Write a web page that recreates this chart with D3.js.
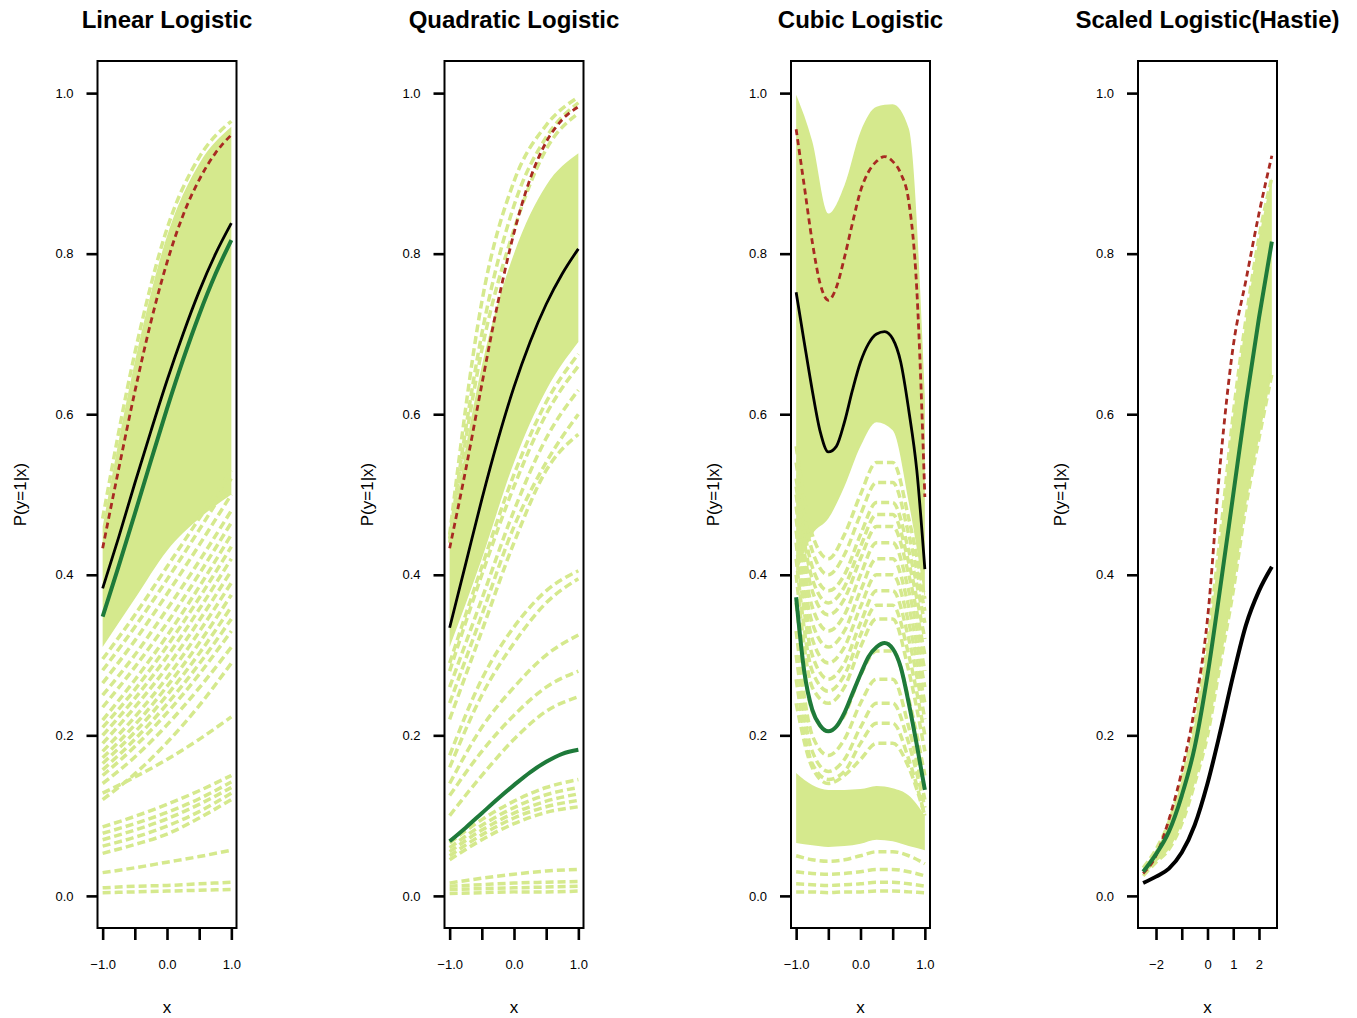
<!DOCTYPE html>
<html>
<head>
<meta charset="utf-8">
<script src="https://cdn.jsdelivr.net/npm/d3@7"></script>
<style>
  body { margin: 0; background: #fff; }
  text { font-family: "Liberation Sans", Arial, sans-serif; }
</style>
</head>
<body>
<svg id="chart" width="1357" height="1018"></svg>
<script>
// x grids the curves were read at
const xFive = [-1, -0.5, 0, 0.5, 1]
const xNine = [-1, -0.75, -0.5, -0.25, 0, 0.25, 0.5, 0.75, 1]
const xCubic = [-1, -0.875, -0.75, -0.625, -0.5, -0.375, -0.25, -0.125, 0, 0.125, 0.25, 0.375, 0.5, 0.625, 0.75, 0.875, 1]
const xHastie = [-2.5, -2, -1.5, -1, -0.5, 0, 0.5, 1, 1.5, 2, 2.5]

const titles = ["Linear Logistic", "Quadratic Logistic", "Cubic Logistic", "Scaled Logistic(Hastie)"]
const yTicks = [0, 0.2, 0.4, 0.6, 0.8, 1.0]
const unitTicks = [-1, -0.5, 0, 0.5, 1]
const unitTickLabels = ["\u22121.0", "", "0.0", "", "1.0"]
const hastieTicks = [-2, -1, 0, 1, 2]
const hastieTickLabels = ["\u22122", "", "0", "1", "2"]

// ---- Linear logistic
const linRed = [0.433, 0.532, 0.628, 0.715, 0.789, 0.848, 0.892, 0.925, 0.948]
const linBlack = [0.383, 0.447, 0.514, 0.579, 0.642, 0.700, 0.753, 0.799, 0.838]
const linGreen = [0.348, 0.411, 0.476, 0.542, 0.607, 0.668, 0.724, 0.774, 0.817]
const linBandTop = [0.46, 0.665, 0.822, 0.912, 0.958]
const linBandBottom = [0.31, 0.37, 0.43, 0.47, 0.50]
const linCurves = [
    [0.47, 0.676, 0.831, 0.920, 0.965],
    [0.295, 0.350, 0.410, 0.470, 0.530],
    [0.281, 0.335, 0.394, 0.456, 0.520],
    [0.265, 0.318, 0.376, 0.437, 0.500],
    [0.250, 0.300, 0.357, 0.417, 0.480],
    [0.235, 0.285, 0.340, 0.401, 0.465],
    [0.219, 0.269, 0.324, 0.385, 0.450],
    [0.210, 0.257, 0.311, 0.371, 0.435],
    [0.200, 0.246, 0.298, 0.357, 0.420],
    [0.190, 0.235, 0.285, 0.343, 0.405],
    [0.180, 0.223, 0.272, 0.329, 0.390],
    [0.172, 0.213, 0.261, 0.315, 0.375],
    [0.165, 0.204, 0.250, 0.302, 0.360],
    [0.157, 0.195, 0.239, 0.289, 0.345],
    [0.150, 0.186, 0.228, 0.276, 0.330],
    [0.140, 0.173, 0.213, 0.259, 0.310],
    [0.120, 0.152, 0.191, 0.237, 0.290],
    [0.128, 0.148, 0.170, 0.195, 0.223],
    [0.086, 0.099, 0.114, 0.131, 0.150],
    [0.078, 0.090, 0.104, 0.121, 0.142],
    [0.070, 0.082, 0.096, 0.114, 0.135],
    [0.062, 0.073, 0.087, 0.105, 0.128],
    [0.053, 0.064, 0.077, 0.097, 0.120],
    [0.029, 0.035, 0.042, 0.049, 0.057],
    [0.010, 0.012, 0.013, 0.015, 0.017],
    [0.004, 0.005, 0.006, 0.007, 0.008]
]

// ---- Quadratic logistic
const quadRed = [0.433, 0.531, 0.637, 0.739, 0.826, 0.893, 0.939, 0.967, 0.983]
const quadBlack = [0.334, 0.414, 0.494, 0.568, 0.634, 0.690, 0.737, 0.775, 0.806]
const quadGreen = [0.068, 0.085, 0.103, 0.121, 0.138, 0.154, 0.167, 0.177, 0.182]
const quadBandTop = [0.44, 0.66, 0.80, 0.885, 0.925]
const quadBandBottom = [0.31, 0.42, 0.54, 0.63, 0.69]
const quadCurves = [
    [0.45, 0.74, 0.89, 0.96, 0.995],
    [0.445, 0.70, 0.86, 0.945, 0.988],
    [0.44, 0.68, 0.83, 0.93, 0.975],
    [0.29, 0.41, 0.525, 0.615, 0.675],
    [0.28, 0.40, 0.51, 0.60, 0.66],
    [0.26, 0.37, 0.48, 0.57, 0.63],
    [0.24, 0.35, 0.46, 0.54, 0.60],
    [0.22, 0.33, 0.44, 0.53, 0.575],
    [0.175, 0.27, 0.335, 0.38, 0.405],
    [0.16, 0.25, 0.315, 0.365, 0.395],
    [0.14, 0.21, 0.26, 0.30, 0.325],
    [0.125, 0.18, 0.225, 0.26, 0.28],
    [0.10, 0.15, 0.195, 0.23, 0.248],
    [0.066, 0.095, 0.118, 0.135, 0.145],
    [0.060, 0.088, 0.110, 0.126, 0.135],
    [0.055, 0.082, 0.103, 0.118, 0.127],
    [0.050, 0.076, 0.097, 0.111, 0.119],
    [0.045, 0.070, 0.090, 0.104, 0.111],
    [0.016, 0.022, 0.027, 0.031, 0.033],
    [0.012, 0.014, 0.016, 0.017, 0.018],
    [0.008, 0.009, 0.010, 0.011, 0.012],
    [0.003, 0.004, 0.005, 0.005, 0.006]
]

// ---- Cubic logistic
const cubicRed = [0.955, 0.885, 0.815, 0.762, 0.742, 0.758, 0.795, 0.838, 0.878, 0.902, 0.915, 0.921, 0.915, 0.900, 0.865, 0.755, 0.497]
const cubicBlack = [0.752, 0.69, 0.63, 0.578, 0.553, 0.560, 0.590, 0.630, 0.665, 0.688, 0.700, 0.703, 0.694, 0.665, 0.605, 0.530, 0.407]
const cubicGreen = [0.372, 0.280, 0.232, 0.212, 0.205, 0.211, 0.228, 0.252, 0.276, 0.298, 0.310, 0.315, 0.308, 0.285, 0.240, 0.188, 0.132]
const cubicBandTop = [0.998, 0.94, 0.85, 0.885, 0.952, 0.983, 0.986, 0.956, 0.62]
const cubicBandBottom = [0.40, 0.45, 0.47, 0.51, 0.56, 0.59, 0.58, 0.49, 0.37]
const cubicFloorTop = [0.153, 0.138, 0.132, 0.132, 0.133, 0.137, 0.134, 0.125, 0.10]
const cubicFloorBottom = [0.066, 0.063, 0.061, 0.062, 0.065, 0.07, 0.068, 0.062, 0.057]
const cubicCurves = [
    [0.56, 0.45, 0.42, 0.45, 0.50, 0.54, 0.54, 0.47, 0.37],
    [0.54, 0.43, 0.40, 0.425, 0.475, 0.515, 0.515, 0.45, 0.355],
    [0.52, 0.41, 0.38, 0.40, 0.45, 0.49, 0.49, 0.43, 0.34],
    [0.51, 0.395, 0.365, 0.385, 0.435, 0.475, 0.475, 0.415, 0.32],
    [0.50, 0.38, 0.35, 0.37, 0.42, 0.46, 0.46, 0.40, 0.30],
    [0.485, 0.36, 0.33, 0.35, 0.40, 0.44, 0.44, 0.38, 0.28],
    [0.47, 0.34, 0.31, 0.33, 0.38, 0.42, 0.42, 0.36, 0.26],
    [0.455, 0.32, 0.29, 0.31, 0.36, 0.40, 0.40, 0.34, 0.24],
    [0.44, 0.30, 0.27, 0.29, 0.34, 0.38, 0.38, 0.32, 0.22],
    [0.42, 0.28, 0.255, 0.275, 0.325, 0.362, 0.362, 0.30, 0.20],
    [0.40, 0.26, 0.24, 0.26, 0.31, 0.345, 0.345, 0.28, 0.18],
    [0.365, 0.23, 0.205, 0.225, 0.275, 0.305, 0.305, 0.245, 0.15],
    [0.33, 0.20, 0.175, 0.195, 0.24, 0.27, 0.27, 0.21, 0.12],
    [0.30, 0.18, 0.155, 0.17, 0.21, 0.24, 0.24, 0.19, 0.11],
    [0.27, 0.165, 0.145, 0.155, 0.19, 0.215, 0.215, 0.17, 0.10],
    [0.24, 0.16, 0.14, 0.15, 0.17, 0.19, 0.19, 0.16, 0.10],
    [0.05, 0.045, 0.043, 0.045, 0.05, 0.055, 0.055, 0.05, 0.04],
    [0.03, 0.028, 0.027, 0.028, 0.03, 0.033, 0.033, 0.03, 0.025],
    [0.015, 0.014, 0.013, 0.014, 0.015, 0.017, 0.017, 0.015, 0.012],
    [0.005, 0.005, 0.004, 0.005, 0.005, 0.006, 0.006, 0.005, 0.004]
]

// ---- Scaled logistic (Hastie)
const hastieRed = [0.028, 0.05, 0.095, 0.155, 0.234, 0.345, 0.54, 0.685, 0.768, 0.85, 0.922]
const hastieBlack = [0.016, 0.024, 0.034, 0.054, 0.088, 0.14, 0.205, 0.275, 0.338, 0.38, 0.41]
const hastieGreen = [0.030, 0.052, 0.08, 0.125, 0.185, 0.275, 0.385, 0.50, 0.615, 0.72, 0.815]
const hastieBandTop = [0.035, 0.058, 0.092, 0.145, 0.215, 0.315, 0.45, 0.60, 0.72, 0.82, 0.895]
const hastieBandBottom = [0.025, 0.042, 0.058, 0.09, 0.14, 0.20, 0.29, 0.38, 0.487, 0.57, 0.65]

const bandColour = "#d5e98d"
const redColour = "#a82a22"
const greenColour = "#1e7a3a"

const box = {top: 61, bottom: 928, width: 139}
const panelLefts = [97.5, 444.5, 791, 1138]

const panels = [
    {domain: [-1, 1], ticks: unitTicks, tickLabels: unitTickLabels, blackWidth: 2.8,
     areas: [{xs: xFive, top: linBandTop, bottom: linBandBottom}],
     curves: linCurves.map(ys => ({xs: xFive, ys})),
     red: {xs: xNine, ys: linRed}, black: {xs: xNine, ys: linBlack}, green: {xs: xNine, ys: linGreen}},
    {domain: [-1, 1], ticks: unitTicks, tickLabels: unitTickLabels, blackWidth: 2.8,
     areas: [{xs: xFive, top: quadBandTop, bottom: quadBandBottom}],
     curves: quadCurves.map(ys => ({xs: xFive, ys})),
     red: {xs: xNine, ys: quadRed}, black: {xs: xNine, ys: quadBlack}, green: {xs: xNine, ys: quadGreen}},
    {domain: [-1, 1], ticks: unitTicks, tickLabels: unitTickLabels, blackWidth: 2.8,
     areas: [{xs: xNine, top: cubicBandTop, bottom: cubicBandBottom},
             {xs: xNine, top: cubicFloorTop, bottom: cubicFloorBottom}],
     curves: cubicCurves.map(ys => ({xs: xNine, ys})),
     red: {xs: xCubic, ys: cubicRed}, black: {xs: xCubic, ys: cubicBlack}, green: {xs: xCubic, ys: cubicGreen}},
    {domain: [-2.5, 2.5], ticks: hastieTicks, tickLabels: hastieTickLabels, blackWidth: 4,
     areas: [{xs: xHastie, top: hastieBandTop, bottom: hastieBandBottom}],
     curves: [{xs: xHastie, ys: hastieBandTop}, {xs: xHastie, ys: hastieBandBottom}],
     red: {xs: xHastie, ys: hastieRed}, black: {xs: xHastie, ys: hastieBlack}, green: {xs: xHastie, ys: hastieGreen}}
]

const svg = d3.select("#chart")

function drawPanel(p, i) {
    const left = panelLefts[i]
    const pad = (p.domain[1] - p.domain[0]) * 0.04
    const x = d3.scaleLinear()
        .domain([p.domain[0] - pad, p.domain[1] + pad])
        .range([left, left + box.width])
    const y = d3.scaleLinear()
        .domain([-0.04, 1.04])
        .range([box.bottom, box.top])

    const clipId = `clip-${i}`
    svg.append("clipPath").attr("id", clipId)
      .append("rect")
        .attr("x", left).attr("y", box.top)
        .attr("width", box.width).attr("height", box.bottom - box.top)

    const plot = svg.append("g").attr("clip-path", `url(#${clipId})`)

    const line = (s) => d3.line()
        .x((d, k) => x(s.xs[k]))
        .y(d => y(d))
        .curve(d3.curveMonotoneX)(s.ys)

    // dense part of the simulated curves
    p.areas.forEach(a => {
        const area = d3.area()
            .x((d, k) => x(a.xs[k]))
            .y0((d, k) => y(a.bottom[k]))
            .y1(d => y(d))
            .curve(d3.curveMonotoneX)
        plot.append("path")
            .attr("d", area(a.top))
            .attr("fill", bandColour)
    })

    // individual dashed simulated curves
    plot.selectAll("path.sim")
        .data(p.curves)
        .join("path")
        .attr("class", "sim")
        .attr("d", d => line(d))
        .attr("fill", "none")
        .attr("stroke", bandColour)
        .attr("stroke-width", 3.5)
        .attr("stroke-dasharray", "8,4")

    plot.append("path")
        .attr("d", line(p.red))
        .attr("fill", "none")
        .attr("stroke", redColour)
        .attr("stroke-width", 2.8)
        .attr("stroke-dasharray", "6,4")

    plot.append("path")
        .attr("d", line(p.black))
        .attr("fill", "none")
        .attr("stroke", "black")
        .attr("stroke-width", p.blackWidth)

    plot.append("path")
        .attr("d", line(p.green))
        .attr("fill", "none")
        .attr("stroke", greenColour)
        .attr("stroke-width", 4)

    // frame
    svg.append("rect")
        .attr("x", left).attr("y", box.top)
        .attr("width", box.width).attr("height", box.bottom - box.top)
        .attr("fill", "none")
        .attr("stroke", "black")
        .attr("stroke-width", 2)

    const yAxis = svg.append("g")
        .attr("transform", `translate(${left}, 0)`)
        .call(d3.axisLeft(y)
            .tickValues(yTicks)
            .tickFormat(d3.format(".1f"))
            .tickSize(11)
            .tickPadding(13))
    yAxis.select(".domain").remove()
    yAxis.selectAll("line").attr("stroke-width", 2.6)
    yAxis.selectAll("text").attr("font-size", 13).attr("font-family", "Liberation Sans, Arial, sans-serif")

    const xAxis = svg.append("g")
        .attr("transform", `translate(0, ${box.bottom})`)
        .call(d3.axisBottom(x)
            .tickValues(p.ticks)
            .tickFormat((d, k) => p.tickLabels[k])
            .tickSize(12)
            .tickPadding(20))
    xAxis.select(".domain").remove()
    xAxis.selectAll("line").attr("stroke-width", 2.6)
    xAxis.selectAll("text").attr("font-size", 13).attr("font-family", "Liberation Sans, Arial, sans-serif")

    const centre = left + box.width / 2

    svg.append("text")
        .attr("x", centre)
        .attr("y", 28)
        .attr("text-anchor", "middle")
        .attr("font-size", 24)
        .attr("font-weight", "bold")
        .text(titles[i])

    svg.append("text")
        .attr("x", centre)
        .attr("y", 1013)
        .attr("text-anchor", "middle")
        .attr("font-size", 17)
        .text("x")

    svg.append("text")
        .attr("transform", `translate(${left - 72}, ${(box.top + box.bottom) / 2}) rotate(-90)`)
        .attr("text-anchor", "middle")
        .attr("font-size", 17)
        .text("P(y=1|x)")
}

panels.forEach(drawPanel)
</script>
</body>
</html>
